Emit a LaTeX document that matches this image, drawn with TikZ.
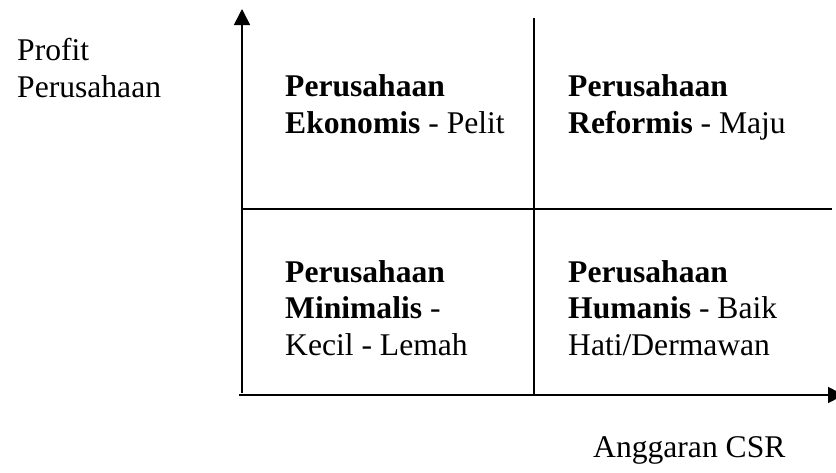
\documentclass[tikz,border=0pt]{standalone}
\usepackage{fontspec}
\setmainfont{Liberation Serif}
\usetikzlibrary{arrows.meta}
\begin{document}
\begin{tikzpicture}[x=1pt,y=-1pt,
  axis/.style={line width=1.6pt,-{Triangle[length=16pt,width=16pt]}},
  grid/.style={line width=1.6pt},
  lbl/.style={anchor=base west,inner sep=0pt,font=\fontsize{31.6}{36.6}\selectfont}]
\useasboundingbox (0,0) rectangle (836,472);

% axes
\coordinate (o) at (242,393);
\coordinate (ytop) at (242,9);
\coordinate (xl) at (239,395);
\coordinate (xr) at (844,395);
\draw[axis] (o) -- (ytop);
\draw[axis] (xl) -- (xr);

% quadrant dividers
\coordinate (vtop) at (534,18);
\coordinate (vbot) at (534,394);
\coordinate (hl) at (242,209);
\coordinate (hr) at (832,209);
\draw[grid] (vtop) -- (vbot);
\draw[grid] (hl) -- (hr);

% axis titles
\node[lbl] (ya1) at (17,60) {Profit};
\node[lbl] (ya2) at (17,97) {Perusahaan};
\node[lbl] (xa) at (593,457) {Anggaran CSR};

% top left
\node[lbl] (tl1) at (285,96) {\textbf{Perusahaan}};
\node[lbl] (tl2) at (285,133) {\textbf{Ekonomis} - Pelit};
% top right
\node[lbl] (tr1) at (568,96) {\textbf{Perusahaan}};
\node[lbl] (tr2) at (568,133) {\textbf{Reformis} - Maju};
% bottom left
\node[lbl] (bl1) at (285,282) {\textbf{Perusahaan}};
\node[lbl] (bl2) at (285,318.5) {\textbf{Minimalis} -};
\node[lbl] (bl3) at (285,355) {Kecil - Lemah};
% bottom right
\node[lbl] (br1) at (568,282) {\textbf{Perusahaan}};
\node[lbl] (br2) at (568,318.5) {\textbf{Humanis} - Baik};
\node[lbl] (br3) at (568,355) {Hati/Dermawan};
\end{tikzpicture}
\end{document}
